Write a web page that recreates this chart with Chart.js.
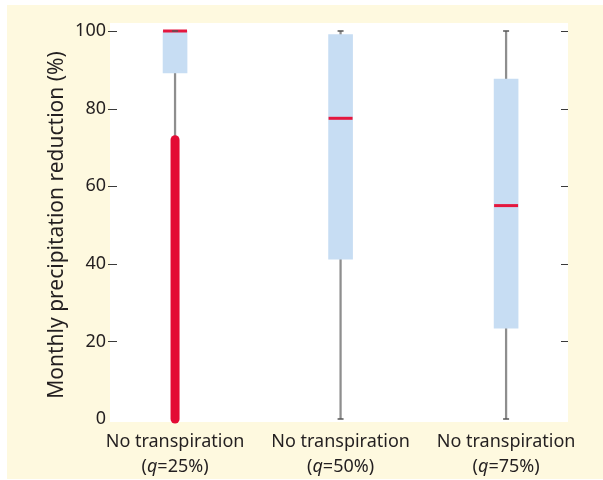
<!DOCTYPE html>
<html>
<head>
<meta charset="utf-8">
<script src="https://cdn.jsdelivr.net/npm/chart.js@4/dist/chart.umd.min.js"></script>
<style>
  html, body { margin: 0; padding: 0; background: #ffffff; }
  #wrap { width: 603px; height: 480px; }
</style>
</head>
<body>
<div id="wrap"><canvas id="c" width="603" height="480"></canvas></div>
<script>
// Scenario labels and box-plot statistics (monthly precipitation reduction, %)
const categoryNames = ['No transpiration', 'No transpiration', 'No transpiration'];
const qLevels = ['25%', '50%', '75%'];
const whiskerLow = [73, 0, 0];
const boxLow = [89.2, 41.2, 23.4];
const medians = [100, 77.5, 55];
const boxHigh = [100, 99.1, 87.6];
const whiskerHigh = [100, 100, 100];
// Range covered by the densely packed outliers (only the q=25% case has them)
const outlierLow = [0, null, null];
const outlierHigh = [72, null, null];
const yTicks = [0, 20, 40, 60, 80, 100];

const TEXT = '#231f20';
const FONT = 'Noto Sans';

const xPos = categoryNames.map((_, i) => i + 1);

const whiskerData = xPos.map((x, i) => ({ x, y: [whiskerLow[i], whiskerHigh[i]] }));
const boxData = xPos.map((x, i) => ({ x, y: [boxLow[i], boxHigh[i]] }));
const medianData = xPos.map((x, i) => ({ x, y: medians[i] }));
const capData = [];
xPos.forEach((x, i) => {
  capData.push({ x, y: whiskerHigh[i] });
  if (outlierHigh[i] === null) capData.push({ x, y: whiskerLow[i] });
});
const outlierDatasets = xPos
  .map((x, i) => outlierHigh[i] === null ? null : {
    type: 'line',
    data: [{ x, y: outlierLow[i] }, { x, y: outlierHigh[i] }],
    borderColor: '#e30b34',
    borderWidth: 9,
    borderCapStyle: 'round',
    pointRadius: 0,
    clip: false,
    order: 3
  })
  .filter(Boolean);

// Cream page, white plotting panel
const backdrop = {
  id: 'backdrop',
  beforeDraw(chart) {
    const { ctx, chartArea: a } = chart;
    ctx.save();
    ctx.fillStyle = '#ffffff';
    ctx.fillRect(0, 0, chart.width, chart.height);
    ctx.fillStyle = '#fef9df';
    ctx.fillRect(7, 5, chart.width - 7, chart.height - 6);
    ctx.fillStyle = '#ffffff';
    ctx.fillRect(a.left, a.top - 8, a.right - a.left, a.bottom - a.top + 11);
    ctx.restore();
  }
};

// Inward tick marks on both sides of the panel
const tickMarks = {
  id: 'tickMarks',
  afterDraw(chart) {
    const { ctx, chartArea: a, scales: { y } } = chart;
    ctx.save();
    ctx.strokeStyle = '#3a3a3a';
    ctx.lineWidth = 1;
    ctx.beginPath();
    yTicks.forEach(v => {
      if (v === 0) return;
      const py = Math.round(y.getPixelForValue(v)) + 0.5;
      ctx.moveTo(a.left - 2, py); ctx.lineTo(a.left + 7, py);
      ctx.moveTo(a.right - 7, py); ctx.lineTo(a.right, py);
    });
    ctx.stroke();
    ctx.restore();
  }
};

// Two-line category labels with an italic "q"
const categoryLabels = {
  id: 'categoryLabels',
  afterDraw(chart) {
    const { ctx, chartArea: a, scales: { x } } = chart;
    const normal = `18px "${FONT}"`;
    const italic = `italic 18px "${FONT}"`;
    ctx.save();
    ctx.fillStyle = TEXT;
    ctx.textBaseline = 'alphabetic';
    xPos.forEach((v, i) => {
      const cx = x.getPixelForValue(v);
      ctx.font = normal;
      ctx.textAlign = 'center';
      ctx.fillText(categoryNames[i], cx, a.bottom + 28);
      const parts = [['(', normal], ['q', italic], ['=' + qLevels[i] + ')', normal]];
      let total = 0;
      parts.forEach(p => { ctx.font = p[1]; total += ctx.measureText(p[0]).width; });
      let px = cx - total / 2;
      ctx.textAlign = 'left';
      parts.forEach(p => {
        ctx.font = p[1];
        ctx.fillText(p[0], px, a.bottom + 53);
        px += ctx.measureText(p[0]).width;
      });
    });
    ctx.restore();
  }
};

new Chart(document.getElementById('c'), {
  type: 'bar',
  data: {
    datasets: [
      {
        label: 'whiskers',
        data: whiskerData,
        backgroundColor: '#8e8e8e',
        barThickness: 1.6,
        grouped: false,
        order: 5
      },
      {
        label: 'boxes',
        data: boxData,
        backgroundColor: '#c7ddf3',
        barThickness: 24,
        grouped: false,
        order: 4
      },
      ...outlierDatasets,
      {
        type: 'line',
        label: 'medians',
        data: medianData,
        showLine: false,
        pointStyle: 'line',
        pointRadius: 12,
        pointBorderWidth: 3,
        borderColor: '#e4173e',
        pointBorderColor: '#e4173e',
        clip: false,
        order: 2
      },
      {
        type: 'line',
        label: 'caps',
        data: capData,
        showLine: false,
        pointStyle: 'line',
        pointRadius: 3,
        pointBorderWidth: 1.5,
        borderColor: '#555555',
        pointBorderColor: '#555555',
        clip: false,
        order: 1
      }
    ]
  },
  options: {
    responsive: false,
    animation: false,
    devicePixelRatio: 1,
    layout: { padding: { left: 7, top: 31, right: 35, bottom: 61 } },
    plugins: { legend: { display: false }, tooltip: { enabled: false } },
    scales: {
      x: {
        type: 'linear',
        min: 0.607,
        max: 3.374,
        offset: false,
        grid: { display: false, drawTicks: false },
        border: { display: false },
        ticks: { display: false },
        afterFit(s) { s.height = 0; }
      },
      y: {
        min: 0,
        max: 100,
        afterBuildTicks(s) { s.ticks = yTicks.map(v => ({ value: v })); },
        grid: { display: false, drawTicks: false },
        border: { display: false },
        ticks: { font: { family: FONT, size: 18 }, color: TEXT, padding: 4 },
        title: {
          display: true,
          text: 'Monthly precipitation reduction (%)',
          font: { family: FONT, size: 21 },
          color: TEXT,
          padding: { top: 37, bottom: 0 }
        },
        afterFit(s) { s.width = 103; }
      }
    }
  },
  plugins: [backdrop, tickMarks, categoryLabels]
});
</script>
</body>
</html>
